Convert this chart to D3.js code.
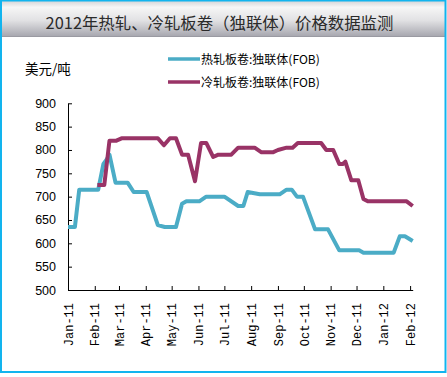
<!DOCTYPE html>
<html><head><meta charset="utf-8">
<script src="https://cdn.jsdelivr.net/npm/d3@7"></script>
<style>
html,body{margin:0;padding:0;background:#fff;}
svg{display:block;}
</style></head>
<body>
<svg id="chart" width="447" height="377"></svg>
<script>
// ---- data ----
const titleText = "2012年热轧、冷轧板卷（独联体）价格数据监测";
const unitLabel = "美元/吨";
const seriesNames = ["热轧板卷:独联体(FOB)", "冷轧板卷:独联体(FOB)"];
const yTicks = [500, 550, 600, 650, 700, 750, 800, 850, 900];
const xDomain = ["2011-01-01", "2012-02-04"];

const hotDates = ["2011-01-01","2011-01-09","2011-01-14","2011-02-05","2011-02-11","2011-02-15","2011-02-18","2011-02-25","2011-03-11","2011-03-18","2011-04-02","2011-04-15","2011-04-23","2011-05-06","2011-05-13","2011-05-18","2011-06-02","2011-06-10","2011-07-01","2011-07-17","2011-07-23","2011-07-28","2011-08-11","2011-09-03","2011-09-11","2011-09-17","2011-09-23","2011-09-30","2011-10-14","2011-10-29","2011-11-11","2011-12-04","2011-12-09","2012-01-13","2012-01-20","2012-01-26","2012-02-04"];
const hotValues = [635,635,715,715,770,780,790,730,730,710,710,639,635,635,685,690,690,700,700,680,680,710,705,705,715,715,700,700,630,630,585,585,580,580,615,615,605];

const coldDates = ["2011-02-04","2011-02-12","2011-02-18","2011-02-26","2011-03-04","2011-04-15","2011-04-22","2011-04-29","2011-05-06","2011-05-13","2011-05-20","2011-05-28","2011-06-04","2011-06-10","2011-06-18","2011-06-24","2011-07-09","2011-07-17","2011-08-05","2011-08-13","2011-08-26","2011-09-01","2011-09-11","2011-09-18","2011-09-24","2011-10-21","2011-10-27","2011-11-04","2011-11-11","2011-11-15","2011-11-18","2011-11-25","2011-12-03","2011-12-09","2011-12-14","2012-01-28","2012-02-04"];
const coldValues = [725,725,820,820,825,825,810,825,825,790,790,733,815,815,785,790,790,805,805,795,795,800,805,805,815,815,800,800,770,770,775,735,735,695,690,690,680];

const colors = ["#4BACC6", "#993366"];

// ---- drawing ----
const parse = d3.utcParse("%Y-%m-%d");
const svg = d3.select("#chart");

// title band gradient
const defs = svg.append("defs");
const grad = defs.append("linearGradient").attr("id","tg").attr("x1",0).attr("y1",0).attr("x2",0).attr("y2",1);
grad.append("stop").attr("offset","0%").attr("stop-color","#d6d6d8");
grad.append("stop").attr("offset","18%").attr("stop-color","#f6f6f6");
grad.append("stop").attr("offset","55%").attr("stop-color","#e2e2e4");
grad.append("stop").attr("offset","100%").attr("stop-color","#a8a8b0");

svg.append("rect").attr("x",1).attr("y",1).attr("width",444).attr("height",35).attr("fill","url(#tg)");
svg.append("line").attr("x1",1).attr("x2",445).attr("y1",36.5).attr("y2",36.5).attr("stroke","#9a9aa2").attr("stroke-width",1);

// outer border
svg.append("rect").attr("x",1).attr("y",0.5).attr("width",444.5).attr("height",371.5)
  .attr("fill","none").attr("stroke","#12b4ee").attr("stroke-width",2);

svg.append("text").attr("x",219.5).attr("y",28.5).attr("text-anchor","middle")
  .attr("font-family","'Noto Sans CJK SC'").attr("font-size",16.4).attr("fill","#2a2a2a")
  .text(titleText);

// scales
const x = d3.scaleUtc().domain(xDomain.map(parse)).range([68, 412.7]);
const y = d3.scaleLinear().domain([500, 900]).range([290, 103.3]);

// y axis
const yAxis = svg.append("g").attr("transform","translate(68,0)")
  .call(d3.axisLeft(y).tickValues(yTicks).tickSizeInner(-4).tickSizeOuter(0).tickPadding(12));
yAxis.selectAll("text").attr("font-family","'Liberation Sans', Arial, sans-serif").attr("font-size",12.5).attr("fill","#000");
yAxis.select(".domain").attr("stroke","#000");
yAxis.selectAll(".tick line").attr("stroke","#000");

// x axis
const xAxis = svg.append("g").attr("transform","translate(0,290)")
  .call(d3.axisBottom(x).ticks(d3.utcMonth.every(1)).tickFormat(d3.utcFormat("%b-%y")).tickSizeInner(-4).tickSizeOuter(0));
xAxis.select(".domain").attr("stroke","#000");
xAxis.selectAll(".tick line").attr("stroke","#000");
xAxis.selectAll("text")
  .attr("font-family","'Liberation Mono', 'DejaVu Sans Mono', monospace").attr("font-size",12).attr("fill","#000")
  .attr("transform","rotate(-90)").attr("text-anchor","end")
  .attr("x",-13).attr("y",0).attr("dy","0.35em");

// unit label
svg.append("text").attr("x",25).attr("y",74).attr("font-family","'Noto Sans CJK SC'").attr("font-size",13.5).attr("fill","#000").text(unitLabel);

// lines
const line = d3.line().x(d => x(d[0])).y(d => y(d[1]));
const series = [
  d3.zip(hotDates.map(parse), hotValues),
  d3.zip(coldDates.map(parse), coldValues)
];
series.forEach((s, i) => {
  svg.append("path").datum(s).attr("d", line).attr("fill","none")
    .attr("stroke", colors[i]).attr("stroke-width",4).attr("stroke-linejoin","round");
});

// legend
const legY = [59, 82];
seriesNames.forEach((n, i) => {
  svg.append("line").attr("x1",168).attr("x2",200).attr("y1",legY[i]).attr("y2",legY[i])
    .attr("stroke",colors[i]).attr("stroke-width",3.5);
  svg.append("text").attr("x",201).attr("y",legY[i]).attr("dy","0.38em")
    .attr("font-family","'Noto Sans CJK SC'").attr("font-size",12).attr("fill","#000").text(n);
});
</script>
</body></html>
